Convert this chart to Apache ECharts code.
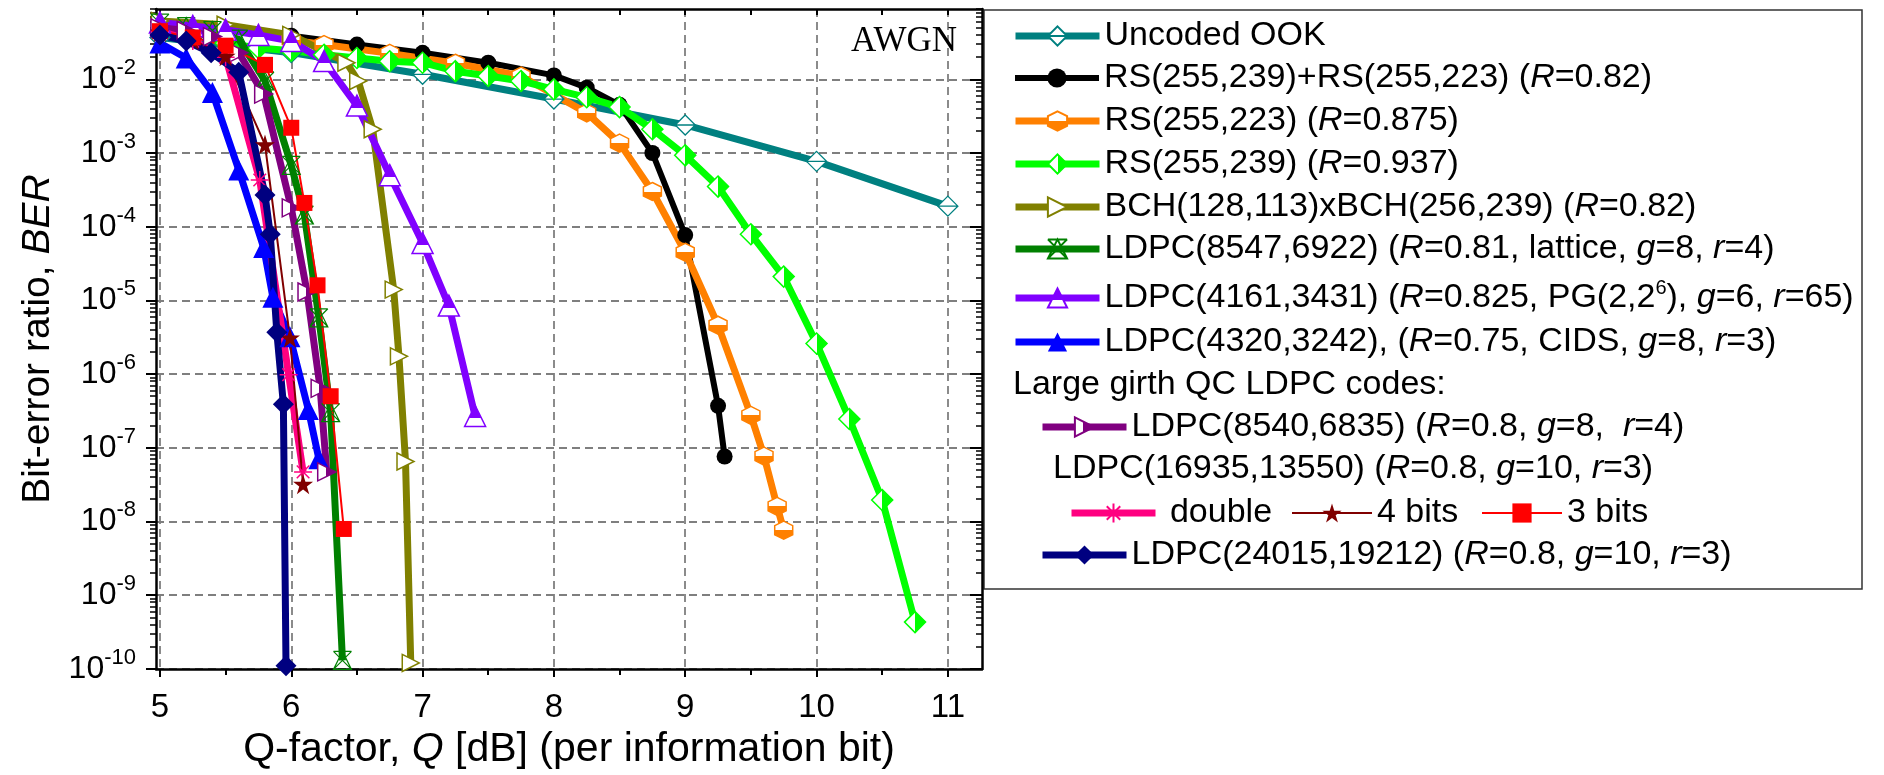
<!DOCTYPE html>
<html>
<head>
<meta charset="utf-8">
<title>BER vs Q-factor</title>
<script src="https://cdn.jsdelivr.net/npm/echarts@6.0.0/dist/echarts.min.js"></script>
<style>
  html, body { margin: 0; padding: 0; background: #fff; }
  #chart { width: 1884px; height: 775px; }
</style>
</head>
<body>
<div id="chart"></div>
<script>
// values: Q-factor [dB] and BER, one pair of arrays per curve
const qUncoded = [5, 6, 7, 8, 9, 10, 11]
const berUncoded = [0.037, 0.023, 0.0117, 0.0054, 0.0024, 7.7e-4, 1.9e-4]

const qRsRs = [6, 6.5, 7, 7.5, 8, 8.25, 8.5, 8.75, 9, 9.25, 9.3]
const berRsRs = [0.039, 0.0296, 0.0229, 0.0168, 0.0113, 7.7e-3, 4.5e-3, 1.0e-3, 7.7e-5, 3.7e-7, 7.6e-8]

const qRs223 = [6, 6.25, 6.75, 7.25, 7.75, 8.25, 8.5, 8.75, 9, 9.25, 9.5, 9.6, 9.7, 9.75]
const berRs223 = [0.034, 0.0296, 0.0225, 0.0165, 0.0111, 3.5e-3, 1.36e-3, 3.0e-4, 4.5e-5, 4.6e-6, 2.75e-7, 7.7e-8, 1.6e-8, 7.6e-9]

const qRs239 = [5.5, 5.75, 6, 6.25, 6.5, 6.75, 7, 7.25, 7.5, 7.75, 8, 8.25, 8.5, 8.75, 9, 9.25, 9.5, 9.75, 10, 10.25, 10.5, 10.75]
const berRs239 = [0.031, 0.0266, 0.0245, 0.0215, 0.0195, 0.0176, 0.0168, 0.0129, 0.0111, 0.0095, 0.0073, 0.0057, 0.0042, 0.0021, 9.3e-4, 3.5e-4, 7.9e-5, 2.1e-5, 2.6e-6, 2.45e-7, 1.95e-8, 4.3e-10]

const qBch = [5, 5.5, 6, 6.42, 6.51, 6.62, 6.78, 6.82, 6.87, 6.91]
const berBch = [0.062, 0.055, 0.04, 0.0168, 9.5e-3, 2.1e-3, 1.4e-5, 1.74e-6, 6.5e-8, 1.2e-10]

const q8547 = [5, 5.2, 5.4, 5.6, 5.8, 6, 6.1, 6.21, 6.3, 6.39]
const ber8547 = [0.058, 0.052, 0.046, 0.035, 9.5e-3, 6.8e-4, 1.44e-4, 5.8e-6, 3.0e-7, 1.3e-10]

const q4161 = [5, 5.25, 5.5, 5.75, 6, 6.25, 6.5, 6.75, 7, 7.2, 7.4]
const ber4161 = [0.059, 0.053, 0.047, 0.040, 0.033, 0.0177, 4.4e-3, 5.0e-4, 6.0e-5, 8.5e-6, 2.7e-7]

const q4320 = [5, 5.2, 5.4, 5.6, 5.79, 5.86, 5.99, 6.13, 6.21]
const ber4320 = [0.031, 0.0195, 6.6e-3, 5.9e-4, 5.2e-5, 1.1e-5, 3.2e-6, 3.3e-7, 7.1e-8]

const q8540 = [5, 5.2, 5.4, 5.6, 5.79, 6, 6.12, 6.22, 6.27]
const ber8540 = [0.05, 0.046, 0.038, 0.0229, 6.3e-3, 1.8e-4, 1.3e-5, 6.4e-7, 4.7e-8]

const qDouble = [5, 5.25, 5.5, 5.76, 5.98, 6.09]
const berDouble = [0.045, 0.033, 0.02, 4.3e-4, 9.8e-7, 4.7e-8]

const q4bit = [5, 5.25, 5.5, 5.8, 5.99, 6.09]
const ber4bit = [0.044, 0.034, 0.0206, 1.3e-3, 3.1e-6, 3.2e-8]

const q3bit = [5, 5.25, 5.5, 5.8, 6, 6.1, 6.2, 6.3, 6.4]
const ber3bit = [0.045, 0.037, 0.0286, 0.0157, 2.2e-3, 2.1e-4, 1.6e-5, 5.0e-7, 7.9e-9]

const q24015 = [5, 5.2, 5.39, 5.6, 5.8, 5.84, 5.89, 5.94, 5.96]
const ber24015 = [0.040, 0.033, 0.0229, 0.0125, 2.7e-4, 7.9e-5, 3.7e-6, 3.9e-7, 1.1e-10]

// axis ticks
const xTicks = [5, 6, 7, 8, 9, 10, 11]
const xHalfTicks = [5.5, 6.5, 7.5, 8.5, 9.5, 10.5]
const yDecades = [1e-10, 1e-9, 1e-8, 1e-7, 1e-6, 1e-5, 1e-4, 1e-3, 1e-2]

// legend texts (rich markup: i = italic, s = superscript)
const legendText = {
  'Uncoded OOK': 'Uncoded OOK',
  'RS+RS': 'RS(255,239)+RS(255,223) ({i|R}=0.82)',
  'RS223': 'RS(255,223) ({i|R}=0.875)',
  'RS239': 'RS(255,239) ({i|R}=0.937)',
  'BCH': 'BCH(128,113)xBCH(256,239) ({i|R}=0.82)',
  'LDPC8547': 'LDPC(8547,6922) ({i|R}=0.81, lattice, {i|g}=8, {i|r}=4)',
  'LDPC4161': 'LDPC(4161,3431) ({i|R}=0.825, PG(2,2{s|6}), {i|g}=6, {i|r}=65)',
  'LDPC4320': 'LDPC(4320,3242), ({i|R}=0.75, CIDS, {i|g}=8, {i|r}=3)',
  'LDPC8540': 'LDPC(8540,6835) ({i|R}=0.8, {i|g}=8,  {i|r}=4)',
  'double': ' double',
  '4 bits': '4 bits',
  '3 bits': '3 bits',
  'LDPC24015': 'LDPC(24015,19212) ({i|R}=0.8, {i|g}=10, {i|r}=3)'
}

const FONT = 'Liberation Sans, Arial, Helvetica, sans-serif'

const minorTicks = []
for (let e = -10; e <= -2; e++) {
  for (let k = 2; k <= 9; k++) minorTicks.push(k * Math.pow(10, e))
}

const pts = (q, b) => q.map((v, i) => [v, b[i]])

// two-tone marker fill (Origin style half filled symbols)
const half = (c, dir, cut, colorFirst) => {
  const a = colorFirst ? c : '#fff'
  const b = colorFirst ? '#fff' : c
  return {
    type: 'linear', x: 0, y: 0, x2: dir === 'h' ? 1 : 0, y2: dir === 'h' ? 0 : 1,
    colorStops: [{ offset: 0, color: a }, { offset: cut, color: a }, { offset: cut, color: b }, { offset: 1, color: b }]
  }
}

const SYM = {
  diamondBar: 'path://M10,0L20,10L10,20L0,10Z M0,10L20,10',
  hexagon: 'path://M10,0L19,5L19,15L10,20L1,15L1,5Z',
  triRight: 'path://M0,0L20,10L0,20Z',
  crossTri: 'path://M10,0L20,20L0,20Z M0,0L20,20 M20,0L0,20 M0,0L20,0',
  asterisk: 'path://M10,0L10,20 M0,10L20,10 M3,3L17,17 M17,3L3,17',
  star: 'path://M10,0L12.25,6.91L19.51,6.91L13.63,11.18L15.88,18.09L10,13.82L4.12,18.09L6.37,11.18L0.49,6.91L7.75,6.91Z'
}

function line(name, data, color, symbol, size, item, width) {
  return {
    name: name,
    type: 'line',
    data: data,
    symbol: symbol,
    symbolSize: size,
    showAllSymbol: true,
    lineStyle: { color: color, width: width || 7 },
    itemStyle: Object.assign({ color: color, borderColor: color, borderWidth: 0 }, item || {}),
    emphasis: { disabled: true }
  }
}

const series = [
  line('Uncoded OOK', pts(qUncoded, berUncoded), '#008080', SYM.diamondBar, 20, { color: '#fff', borderWidth: 1.3 }),
  line('RS+RS', pts(qRsRs, berRsRs), '#000000', 'circle', 16, null, 6),
  line('RS223', pts(qRs223, berRs223), '#ff8000', SYM.hexagon, 18, { color: half('#ff8000', 'v', 0.5, false), borderWidth: 1.5 }),
  line('RS239', pts(qRs239, berRs239), '#00ff00', 'diamond', 21, { color: half('#00ff00', 'h', 0.5, false), borderWidth: 1.5 }),
  line('BCH', pts(qBch, berBch), '#808000', SYM.triRight, 17, { color: '#fff', borderWidth: 1.5 }),
  line('LDPC8547', pts(q8547, ber8547), '#008000', SYM.crossTri, 18, { color: 'rgba(0,0,0,0)', borderWidth: 1.2 }),
  line('LDPC4161', pts(q4161, ber4161), '#8000ff', 'triangle', 21, { color: half('#8000ff', 'v', 0.6, true), borderWidth: 1.5 }),
  line('LDPC4320', pts(q4320, ber4320), '#0000ff', 'triangle', 21),
  line('LDPC8540', pts(q8540, ber8540), '#800080', SYM.triRight, 18, { color: half('#800080', 'h', 0.45, false), borderWidth: 1.5 }),
  line('double', pts(qDouble, berDouble), '#ff0080', SYM.asterisk, 18, { color: 'rgba(0,0,0,0)', borderWidth: 1.5 }),
  line('4 bits', pts(q4bit, ber4bit), '#800000', SYM.star, 20, null, 2),
  line('3 bits', pts(q3bit, ber3bit), '#ff0000', 'rect', 16, null, 2),
  line('LDPC24015', pts(q24015, ber24015), '#000080', 'diamond', 21)
]

// legend placement: item name, left edge of its sample, vertical centre of the row
const legendItems = [
  ['Uncoded OOK', 1012, 36], ['RS+RS', 1012, 78], ['RS223', 1012, 121], ['RS239', 1012, 164],
  ['BCH', 1012, 207], ['LDPC8547', 1012, 249], ['LDPC4161', 1012, 298], ['LDPC4320', 1012, 342],
  ['LDPC8540', 1039, 427], ['double', 1068, 513], ['4 bits', 1291, 513], ['3 bits', 1481, 513],
  ['LDPC24015', 1039, 555]
]

const richLegend = {
  i: { fontFamily: FONT, fontSize: 34, fontStyle: 'italic', lineHeight: 40, color: '#000' },
  s: { fontFamily: FONT, fontSize: 20, lineHeight: 20, verticalAlign: 'top', color: '#000' }
}

const legends = legendItems.map(([name, left, cy]) => ({
  data: [name],
  left: left,
  top: cy - 20,
  padding: 0,
  itemGap: 0,
  itemWidth: name === '4 bits' || name === '3 bits' ? 80 : 84,
  itemHeight: 24,
  selectedMode: false,
  lineStyle: { width: 'inherit' },
  formatter: n => legendText[n],
  textStyle: { fontFamily: FONT, fontSize: 34, lineHeight: 40, color: '#000', rich: richLegend }
}))

const X_MIN = 4.97
const X_MAX = 11.26
const Y_MIN = 9.9e-11
const Y_MAX = 0.09
const gridDash = { color: '#7f7f7f', width: 1.8, type: [8, 5] }
const axisLineStyle = { show: true, onZero: false, lineStyle: { color: '#000', width: 2.5 } }

const chart = echarts.init(document.getElementById('chart'))
chart.setOption({
  animation: false,
  backgroundColor: '#fff',
  title: {
    text: 'AWGN', right: 927, top: 24, padding: 0,
    textStyle: { fontFamily: 'Liberation Serif, Times New Roman, serif', fontSize: 35, fontWeight: 'normal', color: '#000' }
  },
  grid: { left: 156, top: 9, width: 826, height: 666 },
  legend: legends,
  xAxis: [
    {
      type: 'value', position: 'bottom', min: X_MIN, max: X_MAX,
      axisLine: axisLineStyle,
      axisTick: { customValues: xTicks, length: 8, lineStyle: { color: '#000', width: 2 } },
      axisLabel: { customValues: xTicks, margin: 22, fontSize: 33, fontFamily: FONT, color: '#000' },
      splitLine: { show: true, lineStyle: gridDash },
      name: 'Q-factor, {i|Q} [dB] (per information bit)',
      nameLocation: 'middle', nameGap: 57,
      nameTextStyle: {
        fontFamily: FONT, fontSize: 41, color: '#000',
        rich: { i: { fontFamily: FONT, fontSize: 41, fontStyle: 'italic', color: '#000' } }
      }
    },
    {
      type: 'value', position: 'bottom', min: X_MIN, max: X_MAX,
      axisLine: { show: false, onZero: false },
      axisTick: { customValues: xHalfTicks, length: 6, lineStyle: { color: '#000', width: 2 } },
      axisLabel: { show: false },
      splitLine: { show: false }
    },
    {
      type: 'value', position: 'top', min: X_MIN, max: X_MAX,
      axisLine: axisLineStyle,
      axisTick: { inside: true, customValues: xTicks.concat(xHalfTicks), length: 6, lineStyle: { color: '#000', width: 2 } },
      axisLabel: { show: false },
      splitLine: { show: false }
    }
  ],
  yAxis: [
    {
      type: 'log', logBase: 10, position: 'left', min: Y_MIN, max: Y_MAX,
      axisLine: axisLineStyle,
      axisTick: { customValues: yDecades, length: 10, lineStyle: { color: '#000', width: 2 } },
      axisLabel: {
        customValues: yDecades, margin: 20, color: '#000',
        formatter: v => '{b|10}{s|' + Math.round(Math.log10(v)) + '}',
        rich: {
          b: { fontFamily: FONT, fontSize: 32, lineHeight: 44, color: '#000' },
          s: { fontFamily: FONT, fontSize: 22, lineHeight: 20, verticalAlign: 'top', color: '#000' }
        }
      },
      splitLine: { show: true, lineStyle: gridDash },
      name: 'Bit-error ratio, {i|BER}',
      nameLocation: 'middle', nameGap: 98,
      nameTextStyle: {
        fontFamily: FONT, fontSize: 39, color: '#000',
        rich: { i: { fontFamily: FONT, fontSize: 39, fontStyle: 'italic', color: '#000' } }
      }
    },
    {
      type: 'log', logBase: 10, position: 'left', min: Y_MIN, max: Y_MAX,
      axisLine: { show: false },
      axisTick: { customValues: minorTicks, length: 6, lineStyle: { color: '#000', width: 1.5 } },
      axisLabel: { show: false },
      splitLine: { show: false }
    },
    {
      type: 'log', logBase: 10, position: 'right', min: Y_MIN, max: Y_MAX,
      axisLine: axisLineStyle,
      axisTick: { inside: true, customValues: yDecades, length: 12, lineStyle: { color: '#000', width: 2 } },
      axisLabel: { show: false },
      splitLine: { show: false }
    },
    {
      type: 'log', logBase: 10, position: 'right', min: Y_MIN, max: Y_MAX,
      axisLine: { show: false },
      axisTick: { inside: true, customValues: minorTicks, length: 6, lineStyle: { color: '#000', width: 1.5 } },
      axisLabel: { show: false },
      splitLine: { show: false }
    }
  ],
  graphic: [
    {
      type: 'rect', shape: { x: 984, y: 10, width: 878, height: 579 },
      style: { fill: 'none', stroke: '#333', lineWidth: 1.5 }, silent: true
    },
    {
      type: 'text', x: 1013, y: 385,
      style: { text: 'Large girth QC LDPC codes:', fontFamily: FONT, fontSize: 34, fill: '#000', verticalAlign: 'middle' }
    },
    {
      type: 'text', x: 1053, y: 469,
      style: {
        text: 'LDPC(16935,13550) ({i|R}=0.8, {i|g}=10, {i|r}=3)',
        fontFamily: FONT, fontSize: 34, fill: '#000', verticalAlign: 'middle',
        rich: { i: { fontFamily: FONT, fontSize: 34, fontStyle: 'italic', fill: '#000' } }
      }
    }
  ],
  series: series
})
</script>
</body>
</html>
